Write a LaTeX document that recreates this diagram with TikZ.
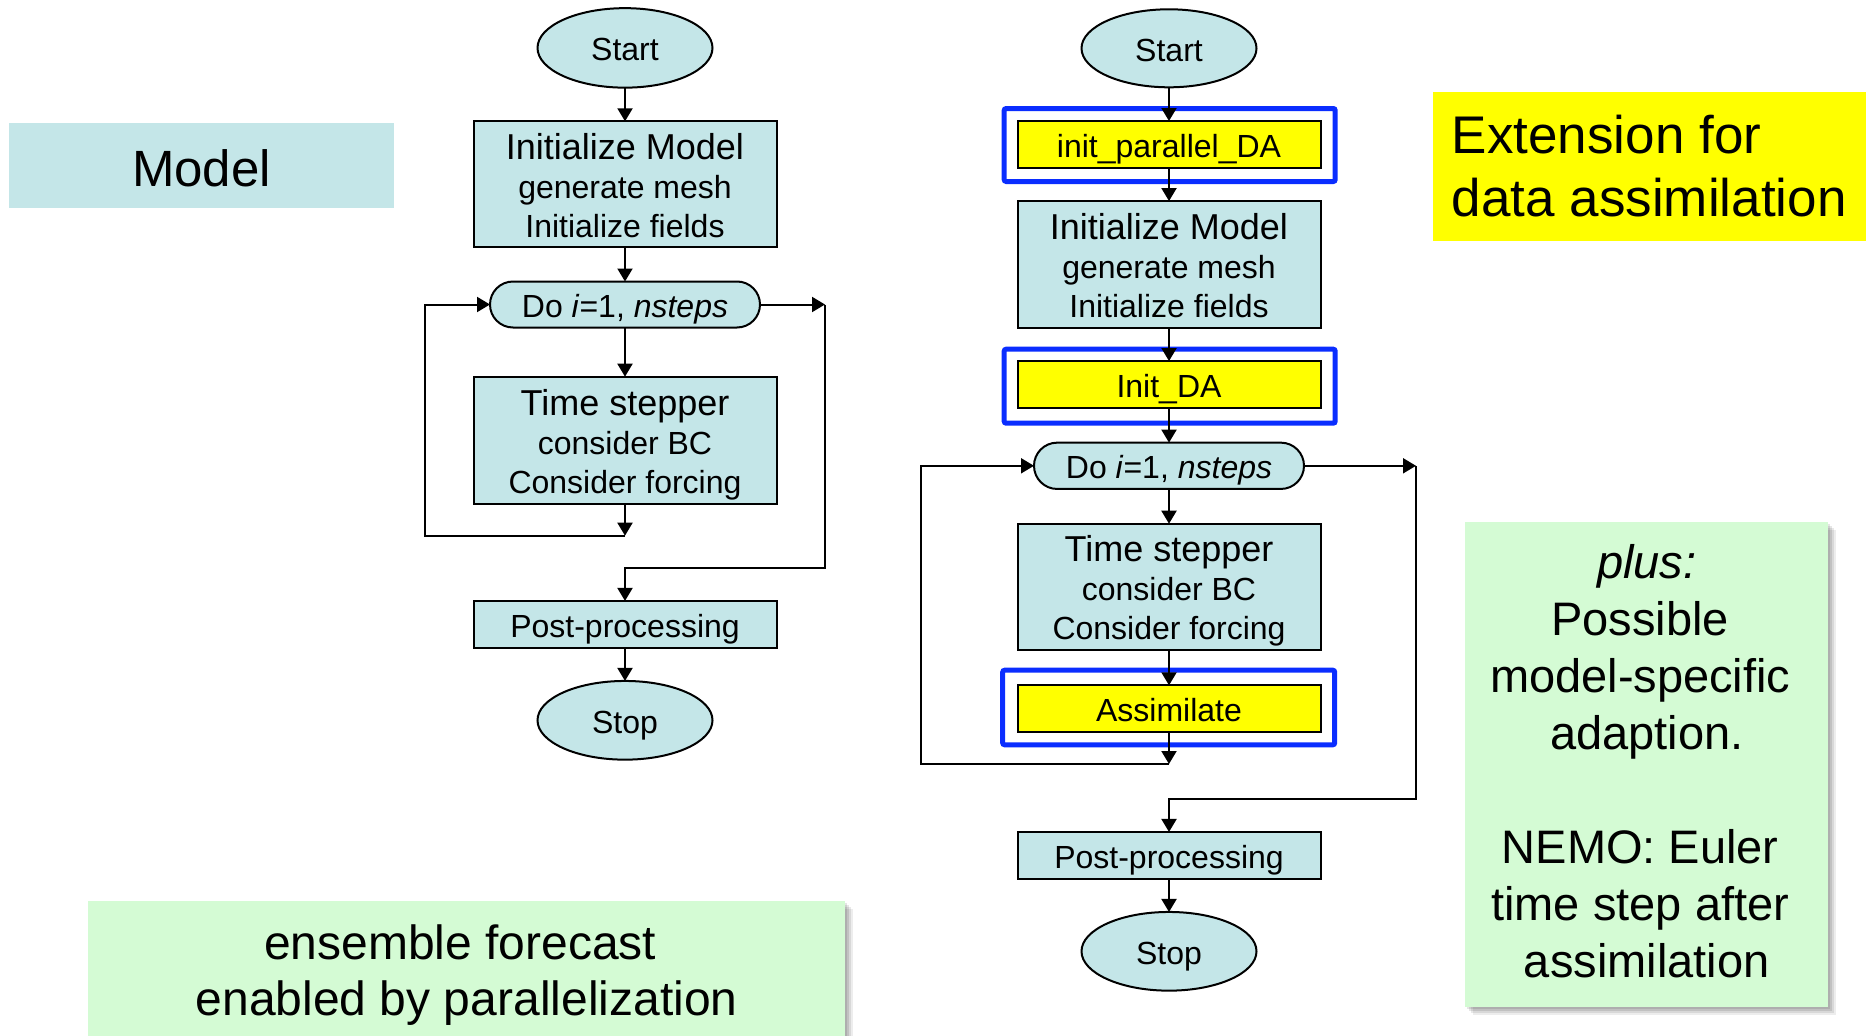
\documentclass[tikz,border=0pt]{standalone}
\usepackage{fontspec}
\setmainfont{Liberation Sans}
\usetikzlibrary{arrows.meta,shapes.geometric,shapes.misc,shadows}
\definecolor{boxteal}{RGB}{196,230,232}
\definecolor{notegreen}{RGB}{212,251,212}
\definecolor{dayellow}{RGB}{255,255,0}
\definecolor{frameblue}{RGB}{10,45,255}
% invisible struts that set where the baselines sit inside a box
\newcommand\fcOne{\rule[-8pt]{0pt}{42pt}}
\newcommand\fcTop{\rule{0pt}{38pt}}
\newcommand\fcBot{\rule[-10pt]{0pt}{10pt}}
\begin{document}
\begin{tikzpicture}[x=1pt,y=-1pt,
  every node/.style={inner sep=0pt, outer sep=0pt},
  proc/.style={rectangle, draw=black, line width=2pt, fill=boxteal,
    minimum width=303pt, align=center, font=\fontsize{32}{39}\selectfont},
  daproc/.style={proc, fill=dayellow},
  term/.style={ellipse, draw=black, line width=2pt, fill=boxteal,
    minimum width=175pt, font=\fontsize{32}{36}\selectfont},
  loophead/.style={rounded rectangle, draw=black, line width=2pt, fill=boxteal,
    minimum width=270pt, font=\fontsize{32}{36}\selectfont},
  daframe/.style={rectangle, draw=frameblue, line width=5pt, rounded corners=2pt},
  conn/.style={draw=black, line width=2pt, -{Triangle[width=15pt,length=13pt]}},
  softshadow/.style={
    drop shadow={shadow xshift=2pt, shadow yshift=-2pt, fill=black, opacity=0.10},
    drop shadow={shadow xshift=4pt, shadow yshift=-4pt, fill=black, opacity=0.10},
    drop shadow={shadow xshift=6pt, shadow yshift=-6pt, fill=black, opacity=0.09},
    drop shadow={shadow xshift=8pt, shadow yshift=-8pt, fill=black, opacity=0.07}},
  note/.style={rectangle, fill=notegreen, align=center, softshadow},
]
\useasboundingbox (0,0) rectangle (1869,1036);

% ---------- side labels ----------
\node[rectangle, fill=boxteal, minimum width=385pt, minimum height=85pt,
      font=\fontsize{51}{60}\selectfont] (modelLbl) at (201.5,165.2)
      {\rule[-10pt]{0pt}{61.6pt}Model};
\node[rectangle, fill=dayellow, minimum width=433pt, minimum height=149pt,
      align=left, font=\fontsize{53}{63}\selectfont] (extLbl) at (1649.3,166.2)
      {Extension for\\data assimilation};
\node[note, minimum width=363pt, minimum height=485pt,
      font=\fontsize{47}{57}\selectfont] (adaptNote) at (1646.7,764.2)
      {\textit{plus:}\\Possible\kern13pt\\model-specific\kern13pt\\adaption.\\[57pt]%
       NEMO: Euler\kern13pt\\time step after\kern13pt\\assimilation\rule[-6pt]{0pt}{6pt}};
\node[note, minimum width=757pt, minimum height=148pt,
      font=\fontsize{48}{56}\selectfont] (ensNote) at (466.7,974.8)
      {ensemble forecast\kern13pt\\enabled by parallelization};

% ---------- model flow chart ----------
\node[term, minimum height=79.5pt] (startL) at (625,47.9) {\fcOne Start};
\node[proc, minimum height=125.8pt] (initL) at (625,184.3)
  {\fcTop{\fontsize{36}{39}\selectfont Initialize Model}\\generate mesh\\Initialize fields\fcBot};
\node[loophead, minimum height=46pt] (doL) at (625,304.5)
  {\fcOne Do \textit{i}=1, \textit{nsteps}};
\node[proc, minimum height=127.7pt] (timeL) at (625,440.5)
  {\fcTop{\fontsize{36}{39}\selectfont Time stepper}\\consider BC\\Consider forcing\fcBot};
\node[proc, minimum height=46.7pt] (postL) at (625,624.3) {\fcOne Post-processing};
\node[term, minimum height=78.7pt] (stopL) at (625,720.3) {\fcOne Stop};

\coordinate (jL) at (625,535.7);
\coordinate (lL) at (425,535.7);
\coordinate (rL) at (825,304.5);
\coordinate (rLb) at (825,568);

\draw[conn] (startL.south) -- (initL.north);
\draw[conn] (initL.south) -- (doL.north);
\draw[conn] (doL.south) -- (timeL.north);
\draw[conn] (timeL.south) -- (jL);
\draw[conn] (jL) -- (lL) |- (doL.west);
\draw[conn] (doL.east) -- (rL);
\draw[conn] (rL) -- (rLb) -| (postL.north);
\draw[conn] (postL.south) -- (stopL.north);

% ---------- model with data assimilation ----------
\node[daframe, minimum width=331pt, minimum height=73pt] (frameA) at (1169.7,145) {};
\node[daframe, minimum width=331pt, minimum height=74pt] (frameB) at (1169.7,386.2) {};
\node[daframe, minimum width=332pt, minimum height=74.6pt] (frameC) at (1168.7,707.5) {};

\node[term, minimum height=78pt] (startR) at (1169,48.3) {\fcOne Start};
\node[daproc, minimum height=47pt] (ipda) at (1169,144.5) {\fcOne init\_parallel\_DA};
\node[proc, minimum height=127.3pt] (initR) at (1169,264.7)
  {\fcTop{\fontsize{36}{39}\selectfont Initialize Model}\\generate mesh\\Initialize fields\fcBot};
\node[daproc, minimum height=47.3pt] (initDA) at (1169,384.7) {\fcOne Init\_DA};
\node[loophead, minimum height=46.3pt] (doR) at (1169,465.8)
  {\fcOne Do \textit{i}=1, \textit{nsteps}};
\node[proc, minimum height=126pt] (timeR) at (1169,586.7)
  {\fcTop{\fontsize{36}{39}\selectfont Time stepper}\\consider BC\\Consider forcing\fcBot};
\node[daproc, minimum height=47pt] (assim) at (1169,708.8) {\fcOne Assimilate};
\node[proc, minimum height=46.7pt] (postR) at (1169,855.3) {\fcOne Post-processing};
\node[term, minimum height=78.7pt] (stopR) at (1169,951.3) {\fcOne Stop};

\coordinate (jR) at (1169,764);
\coordinate (lR) at (921,764);
\coordinate (rR) at (1416,465.8);
\coordinate (rRb) at (1416,799);

\draw[conn] (startR.south) -- (ipda.north);
\draw[conn] (ipda.south) -- (initR.north);
\draw[conn] (initR.south) -- (initDA.north);
\draw[conn] (initDA.south) -- (doR.north);
\draw[conn] (doR.south) -- (timeR.north);
\draw[conn] (timeR.south) -- (assim.north);
\draw[conn] (assim.south) -- (jR);
\draw[conn] (jR) -- (lR) |- (doR.west);
\draw[conn] (doR.east) -- (rR);
\draw[conn] (rR) -- (rRb) -| (postR.north);
\draw[conn] (postR.south) -- (stopR.north);
\end{tikzpicture}
\end{document}
